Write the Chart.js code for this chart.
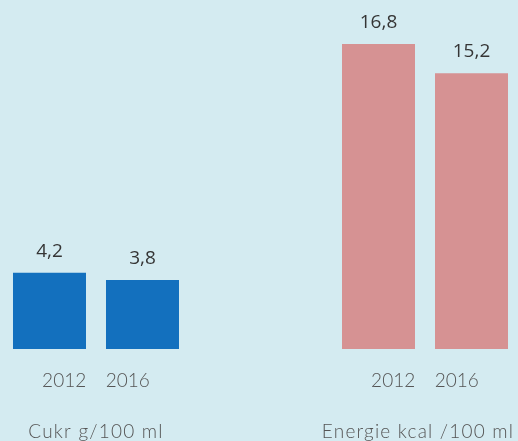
<!DOCTYPE html>
<html>
<head>
<meta charset="utf-8">
<script src="https://cdn.jsdelivr.net/npm/chart.js@4"></script>
<style>
  html, body { margin: 0; padding: 0; width: 518px; height: 441px; overflow: hidden; background: #d4ebf1; }
  .wrap { position: absolute; left: 0; top: 0; width: 518px; height: 441px; }
</style>
</head>
<body>
<div class="wrap"><canvas id="c1"></canvas></div>
<div class="wrap"><canvas id="c2"></canvas></div>
<script>
const years = ['2012', '2016'];
const sugarTitle = 'Cukr g/100 ml';
const sugarValues = [4.2, 3.8];
const energyTitle = 'Energie kcal /100 ml';
const energyValues = [16.8, 15.2];

const fmt = v => v.toFixed(1).replace('.', ',');

const labelsPlugin = {
  id: 'labelsPlugin',
  afterDatasetsDraw(chart, args, opts) {
    const ctx = chart.ctx;
    const meta = chart.getDatasetMeta(0);
    const xs = chart.scales.x;
    const area = chart.chartArea;
    ctx.save();
    // value labels
    ctx.font = '500 19px "Open Sans"';
    ctx.fillStyle = '#353535';
    ctx.textAlign = 'center';
    ctx.textBaseline = 'alphabetic';
    meta.data.forEach((bar, i) => {
      ctx.fillText(fmt(chart.data.datasets[0].data[i]), bar.x, bar.y - 16);
    });
    // year labels, drawn closer together than the bar centres
    ctx.font = '300 19px Lato';
    ctx.fillStyle = '#555555';
    const mid = (xs.getPixelForValue(0) + xs.getPixelForValue(1)) / 2;
    chart.data.labels.forEach((lab, i) => {
      const px = xs.getPixelForValue(i);
      const x = mid + (px - mid) * opts.yearSpread;
      ctx.fillText(lab, x, area.bottom + 38);
    });
    // group title
    ctx.font = '300 19px Lato';
    if ('letterSpacing' in ctx) ctx.letterSpacing = '1.2px';
    ctx.fillText(opts.title, (area.left + area.right) / 2 + opts.titleShift, area.bottom + 89);
    ctx.restore();
  }
};

function makeChart(id, values, color, title, padLeft, padRight, titleShift) {
  return new Chart(document.getElementById(id), {
    type: 'bar',
    data: {
      labels: years,
      datasets: [{ data: values, backgroundColor: color, borderWidth: 0,
                   barPercentage: 0.785, categoryPercentage: 1.0 }]
    },
    options: {
      responsive: true,
      maintainAspectRatio: false,
      animation: false,
      layout: { padding: { left: padLeft, right: padRight, top: 0, bottom: 92 } },
      scales: {
        x: { display: false },
        y: { display: false, min: 0, max: 19.23 }
      },
      plugins: {
        legend: { display: false },
        tooltip: { enabled: false },
        labelsPlugin: { title: title, titleShift: titleShift, yearSpread: 0.685 }
      }
    },
    plugins: [labelsPlugin]
  });
}

makeChart('c1', sugarValues, '#1370be', sugarTitle, 3, 329, 0);
makeChart('c2', energyValues, '#d69293', energyTitle, 332, 0, -7);
</script>
</body>
</html>
